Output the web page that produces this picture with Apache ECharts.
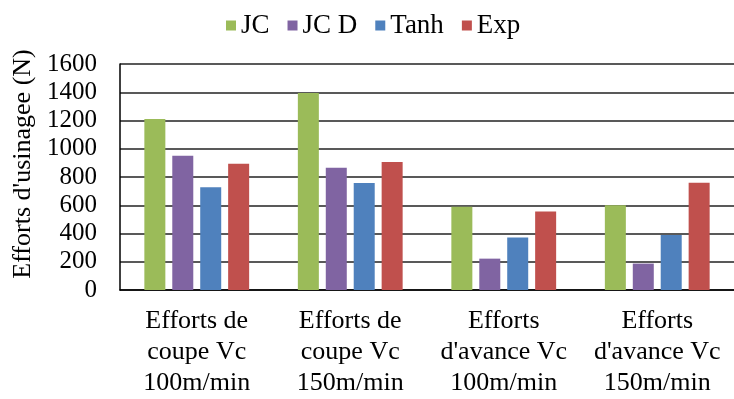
<!DOCTYPE html>
<html>
<head>
<meta charset="utf-8">
<script src="https://cdn.jsdelivr.net/npm/echarts@6/dist/echarts.min.js"></script>
<style>html,body{margin:0;padding:0;background:#fff;}#c{width:734px;height:399px;}</style>
</head>
<body>
<div id="c"></div>
<script>
var categories = ["Efforts de\ncoupe Vc\n100m/min", "Efforts de\ncoupe Vc\n150m/min", "Efforts\nd'avance Vc\n100m/min", "Efforts\nd'avance Vc\n150m/min"];
var seriesNames = ["JC", "JC D", "Tanh", "Exp"];
var jc = [1210, 1395, 590, 600];
var jcd = [950, 865, 222, 187];
var tanh = [728, 757, 371, 389];
var expv = [893, 906, 556, 760];
var yTicks = [0, 200, 400, 600, 800, 1000, 1200, 1400, 1600];
var colors = ["#9BBB59", "#8064A2", "#4F81BD", "#C0504D"];
var font = "Liberation Serif";

var chart = echarts.init(document.getElementById('c'));
var vals = [jc, jcd, tanh, expv];
chart.setOption({
  animation: false,
  legend: {
    top: 7, left: 221,
    itemWidth: 10, itemHeight: 10, itemGap: 18,
    icon: 'rect',
    textStyle: {fontFamily: font, fontSize: 27, color: '#000'},
    data: seriesNames
  },
  grid: {left: 120, right: -8, top: 64, bottom: 103, containLabel: false},
  xAxis: {
    type: 'category', data: categories,
    axisLine: {show: true, lineStyle: {color: '#000', width: 1.5}},
    axisTick: {show: false},
    axisLabel: {fontFamily: font, fontSize: 26, color: '#000', lineHeight: 31, margin: 16, interval: 0}
  },
  yAxis: {
    type: 'value', min: 0, max: yTicks[yTicks.length-1], interval: 200,
    name: "Efforts d'usinagee (N)", nameLocation: 'middle', nameGap: 82, nameRotate: 90,
    nameTextStyle: {fontFamily: font, fontSize: 26, color: '#000', padding: [0, 0, 0, 26]},
    axisLine: {show: true, lineStyle: {color: '#000', width: 1.5}},
    axisTick: {show: false},
    axisLabel: {fontFamily: font, fontSize: 25, color: '#000', margin: 23, formatter: function(v){ return String(v); }},
    splitLine: {lineStyle: {color: '#222', width: 1.5}}
  },
  series: seriesNames.map(function(n, i){
    return {name: n, type: 'bar', data: vals[i], itemStyle: {color: colors[i]},
      barWidth: 21, barGap: '33%', barCategoryGap: '32%'};
  })
});
</script>
</body>
</html>
